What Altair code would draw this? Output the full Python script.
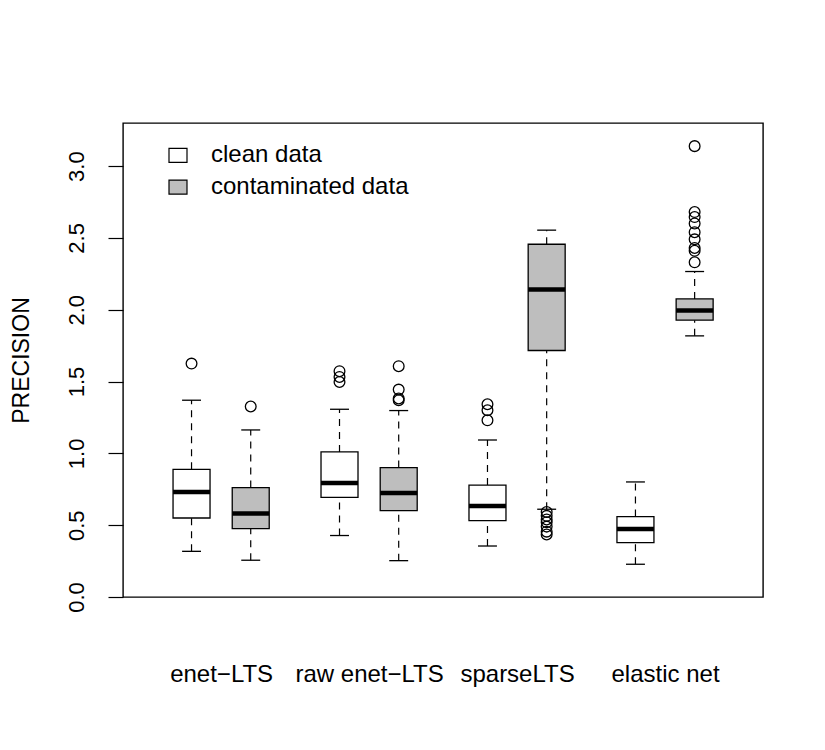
import altair as alt
import pandas as pd

# ---- data ----
methods = ["enet−LTS", "raw enet−LTS", "sparseLTS", "elastic net"]
conditions = ["clean data", "contaminated data"]

box_method = ["enet−LTS", "enet−LTS", "raw enet−LTS", "raw enet−LTS",
              "sparseLTS", "sparseLTS", "elastic net", "elastic net"]
box_condition = ["clean data", "contaminated data"] * 4

whisker_low = [0.318, 0.256, 0.428, 0.253, 0.355, 0.611, 0.228, 1.818]
quart_1 = [0.550, 0.476, 0.694, 0.602, 0.532, 1.716, 0.379, 1.927]
medians = [0.731, 0.581, 0.794, 0.724, 0.634, 2.141, 0.474, 1.994]
quart_3 = [0.889, 0.762, 1.010, 0.901, 0.779, 2.456, 0.560, 2.075]
whisker_high = [1.370, 1.163, 1.307, 1.298, 1.093, 2.554, 0.801, 2.266]

outliers = [
    [1.625],
    [1.326],
    [1.572, 1.532, 1.497],
    [1.607, 1.444, 1.382, 1.370],
    [1.342, 1.300, 1.230],
    [0.592, 0.565, 0.540, 0.520, 0.490, 0.455, 0.435],
    [],
    [3.139, 2.680, 2.645, 2.600, 2.540, 2.490, 2.430, 2.410, 2.330],
]

y_ticks = [0.0, 0.5, 1.0, 1.5, 2.0, 2.5, 3.0]

# ---- layout (box positions along x, as in R's boxplot(at=...)) ----
positions = [1, 2, 3.5, 4.5, 6, 7, 8.5, 9.5]
label_positions = [1.5, 4, 6.5, 9]
BOX_HALF = 0.3125
CAP_HALF = 0.16

boxes = pd.DataFrame({
    "pos": positions,
    "method": box_method,
    "cond": box_condition,
    "lo": whisker_low,
    "q1": quart_1,
    "med": medians,
    "q3": quart_3,
    "hi": whisker_high,
})
boxes["left"] = boxes["pos"] - BOX_HALF
boxes["right"] = boxes["pos"] + BOX_HALF
boxes["capl"] = boxes["pos"] - CAP_HALF
boxes["capr"] = boxes["pos"] + CAP_HALF

out_rows = []
for p, vals in zip(positions, outliers):
    for v in vals:
        out_rows.append({"pos": p, "val": v})
outs = pd.DataFrame(out_rows)

xscale = alt.Scale(domain=[-0.158, 10.655], nice=False, zero=False)
yscale = alt.Scale(domain=[0, 3.3], nice=False, zero=False)

label_expr = " : ".join(
    f"datum.value == {p} ? '{m}'" for p, m in zip(label_positions, methods)
) + " : ''"

x_axis = alt.Axis(
    values=label_positions, labelExpr=label_expr, title=None,
    ticks=False, tickSize=0, domain=False, grid=False,
    labelFontSize=24, labelColor="black", labelBaseline="alphabetic",
    labelPadding=84, labelFlush=False, labelOverlap=False, labelLimit=400,
)
y_axis = alt.Axis(
    values=y_ticks, format=".1f", title="PRECISION", grid=False, domain=False,
    tickSize=15, tickColor="black", tickWidth=1.2,
    labelAngle=270, labelAlign="center", labelBaseline="alphabetic",
    labelPadding=25, labelFontSize=22, labelColor="black",
    labelFlush=False, labelOverlap=False,
    titleAngle=270, titleAlign="center", titleBaseline="alphabetic",
    titleX=-95, titleY=237, titleFontSize=23, titleFontWeight="normal",
    titleColor="black",
)

base = alt.Chart(boxes)
X = alt.X("pos:Q", scale=xscale, axis=x_axis)

whisk_lo = base.mark_rule(color="black", strokeWidth=1.2, strokeDash=[7, 6]).encode(
    x=X, y=alt.Y("lo:Q", scale=yscale, axis=y_axis), y2="q1:Q")
whisk_hi = base.mark_rule(color="black", strokeWidth=1.2, strokeDash=[7, 6]).encode(
    x="pos:Q", y="q3:Q", y2="hi:Q")
cap_lo = base.mark_rule(color="black", strokeWidth=1.3).encode(
    x="capl:Q", x2="capr:Q", y="lo:Q")
cap_hi = base.mark_rule(color="black", strokeWidth=1.3).encode(
    x="capl:Q", x2="capr:Q", y="hi:Q")
box = base.mark_rect(stroke="black", strokeWidth=1.3).encode(
    x="left:Q", x2="right:Q", y="q1:Q", y2="q3:Q",
    fill=alt.Fill(
        "cond:N",
        scale=alt.Scale(domain=conditions, range=["#FFFFFF", "#BEBEBE"]),
        legend=alt.Legend(
            title=None, orient="none", legendX=43, legendY=20.3,
            symbolType="M-1,-0.78H1V0.78H-1Z", symbolSize=324,
            symbolStrokeColor="black", symbolStrokeWidth=1.2,
            symbolOpacity=1, labelFontSize=24, labelColor="black",
            labelOffset=21, rowPadding=7.8, labelLimit=400,
            padding=0,
        ),
    ),
)
median = base.mark_rule(color="black", strokeWidth=4.5).encode(
    x="left:Q", x2="right:Q", y="med:Q")
points = alt.Chart(outs).mark_point(
    shape="circle", filled=False, size=115, color="black", strokeWidth=1.3, opacity=1
).encode(x="pos:Q", y="val:Q")

chart = alt.layer(whisk_lo, whisk_hi, cap_lo, cap_hi, box, median, points).properties(
    width=640, height=474,
    autosize=alt.AutoSizeParams(type="none"),
    padding={"left": 123, "top": 123, "right": 62, "bottom": 153},
    background="white",
).configure(
    font="Liberation Sans",
).configure_view(
    stroke="black", strokeWidth=1.4,
)

chart.save("out.html", embed_options={"renderer": "svg", "actions": False})
